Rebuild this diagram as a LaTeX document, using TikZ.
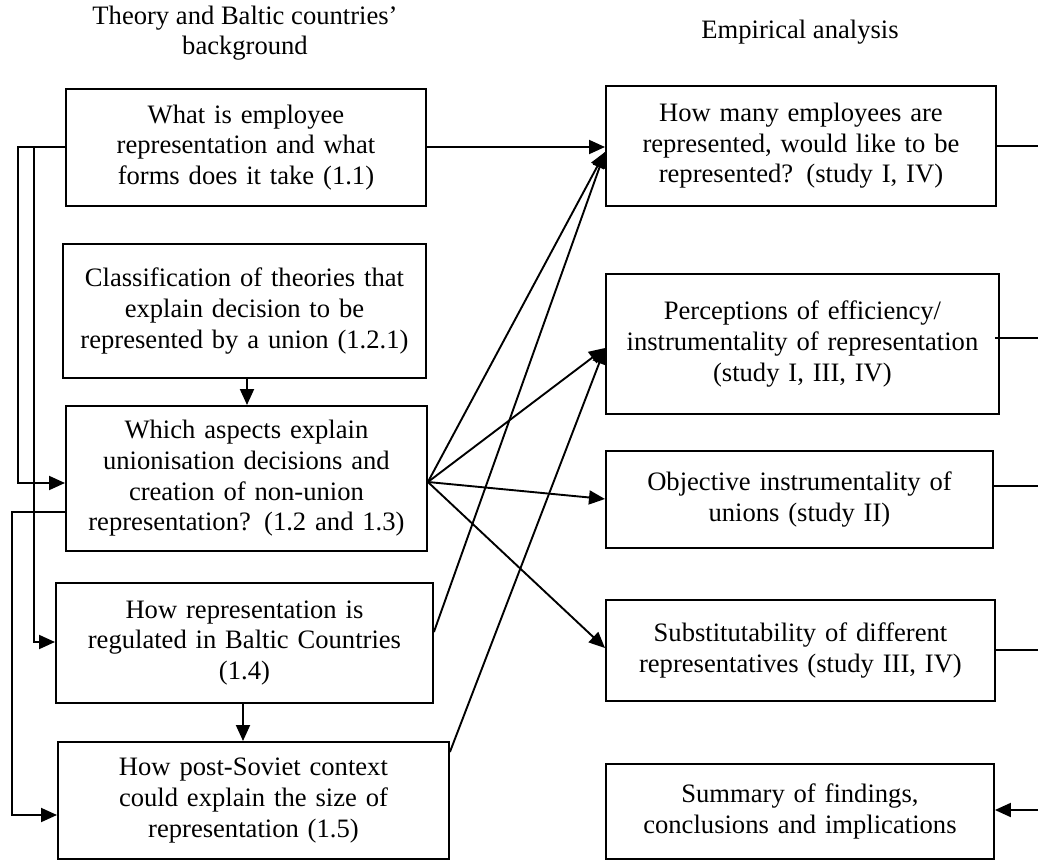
\documentclass[tikz,border=0pt]{standalone}
\usepackage{fontspec}
\setmainfont{Liberation Serif}
\usetikzlibrary{arrows.meta}
\begin{document}
\begin{tikzpicture}[x=0.5pt,y=-0.5pt,
  txt/.style={font=\fontsize{13.3}{15.3}\selectfont},
  box/.style={txt, draw, line width=0.95pt, inner sep=0pt, align=center, anchor=north west},
  conn/.style={line width=0.95pt},
  arr/.style={conn, -{Triangle[length=8pt,width=7pt]}},
  heading/.style={txt, align=center}]
\useasboundingbox (0,0) rectangle (1038,861);

% column headings
\node[heading] (hl) at (245,33) {Theory and Baltic countries’\\background};
\node[heading] (hr) at (800,32) {Empirical analysis};

% left column: theory and background
\node[box, text width=180pt, minimum height=58.5pt] (A) at (65,88)
  {What is employee\\representation and what\\forms does it take (1.1)};
\node[box, text width=181.5pt, minimum height=67pt] (B) at (62,243)
  {Classification of theories that\\explain decision to be\\represented by a union (1.2.1)};
\node[box, text width=180.5pt, minimum height=72.5pt] (C) at (65,405)
  {Which aspects explain\\unionisation decisions and\\creation of non-union\\representation? (1.2 and 1.3)};
\node[box, text width=188.5pt, minimum height=60pt] (D) at (55,582)
  {How representation is\\regulated in Baltic Countries\\(1.4)};
\node[box, text width=195.5pt, minimum height=58.5pt] (E) at (57,741)
  {How post-Soviet context\\could explain the size of\\representation (1.5)};

% right column: empirical analysis
\node[box, text width=195pt, minimum height=60pt] (F) at (605,85)
  {How many employees are\\represented, would like to be\\represented? (study I, IV)};
\node[box, text width=196.5pt, minimum height=70pt] (G) at (605,273)
  {Perceptions of efficiency/\\instrumentality of representation\\(study I, III, IV)};
\node[box, text width=193.5pt, minimum height=48.5pt] (H) at (605,450)
  {Objective instrumentality of\\unions (study II)};
\node[box, text width=194.5pt, minimum height=50.5pt] (I) at (605,599)
  {Substitutability of different\\representatives (study III, IV)};
\node[box, text width=194pt, minimum height=47.5pt] (J) at (605,763)
  {Summary of findings,\\conclusions and implications};

% helper levels
\coordinate (xo) at (18,0);
\coordinate (xi) at (34,0);
\coordinate (xe) at (12,0);
\coordinate (yA) at (0,147);
\coordinate (yC) at (0,483);
\coordinate (yCo) at (0,512);
\coordinate (yD) at (0,642);
\coordinate (yE) at (0,815);
\coordinate (xBC) at (247,0);
\coordinate (xDE) at (243,0);
\coordinate (yFan) at (0,482);
\coordinate (yDo) at (0,632);
\coordinate (yEo) at (0,752);
\coordinate (yF) at (0,152);
\coordinate (yG) at (0,348);
\coordinate (yH) at (0,499);
\coordinate (yI) at (0,648);

% feedback lines on the left
\draw[arr] (A.west |- yA) -- (xo |- yA) -- (xo |- yC) -- (C.west |- yC);
\draw[arr] (xi |- yA) -- (xi |- yD) -- (D.west |- yD);
\draw[arr] (C.west |- yCo) -- (xe |- yCo) -- (xe |- yE) -- (E.west |- yE);

% vertical links
\draw[arr] (B.south -| xBC) -- (C.north -| xBC);
\draw[arr] (D.south -| xDE) -- (E.north -| xDE);

% links into the empirical column
\draw[arr] (A.east |- yA) -- (F.west |- yA);
\coordinate (fan) at (C.east |- yFan);
\draw[arr] (fan) -- (F.west |- yF);
\draw[arr] (fan) -- (G.west |- yG);
\draw[arr] (fan) -- (H.west |- yH);
\draw[arr] (fan) -- (I.west |- yI);
\draw[arr] (D.east |- yDo) -- (F.west |- yF);
\draw[arr] (E.east |- yEo) -- (G.west |- yG);

% lines leaving to the right edge
\coordinate (rF) at (1038,146);
\coordinate (rG) at (1038,338);
\coordinate (rH) at (1038,486);
\coordinate (rI) at (1038,650);
\coordinate (rJ) at (1038,810);
\coordinate (gIn) at ([xshift=-2.5pt]G.east);
\draw[conn] (F.east |- rF) -- (rF);
\draw[conn] (gIn |- rG) -- (rG);
\draw[conn] (H.east |- rH) -- (rH);
\draw[conn] (I.east |- rI) -- (rI);
\draw[arr] (rJ) -- (J.east |- rJ);
\end{tikzpicture}
\end{document}
